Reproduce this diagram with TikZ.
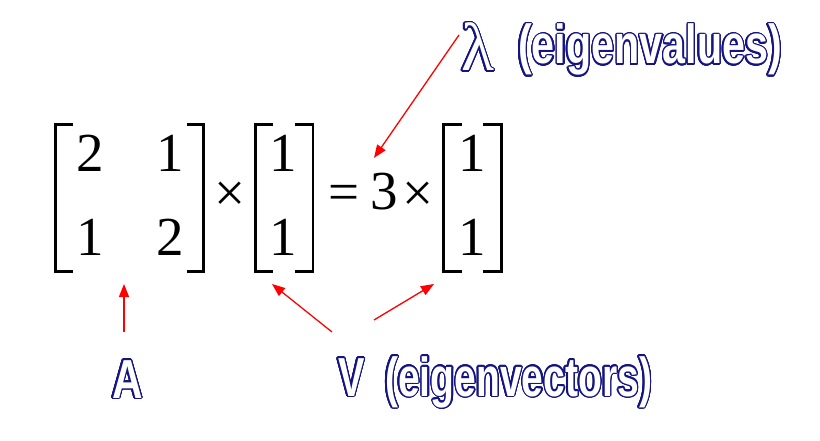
\documentclass[tikz,border=0pt]{standalone}
\usepackage{fontspec}
\setmainfont{Liberation Serif}
\newfontfamily\lblfont{Liberation Sans}
\usepackage{contour}
\contourlength{1.4pt}
\contournumber{24}
\usetikzlibrary{arrows.meta}
\definecolor{lblnavy}{RGB}{20,20,130}
\definecolor{arrred}{RGB}{255,0,0}
\newcommand\outl[2]{\contour{lblnavy}{\scalebox{#1}[1]{#2}}}
\begin{document}
\begin{tikzpicture}[x=1pt,y=-1pt,
  brk/.style={line width=2.7pt, line cap=butt, line join=miter},
  num/.style={inner sep=0pt, anchor=base, font=\fontsize{55}{55}\selectfont},
  op/.style={inner sep=0pt, anchor=center, font=\fontsize{55}{55}\selectfont},
  lbl/.style={inner sep=0pt, anchor=base west, text=white, font=\lblfont\bfseries\fontsize{55}{55}\selectfont},
  pointer/.style={draw=arrred, line width=1.3pt, -{Triangle[length=13pt,width=10pt]}},
]
\useasboundingbox (0,0) rectangle (820,441);
% brackets
\draw[brk] (73,124.5) -- (55.5,124.5) -- (55.5,271.4) -- (73,271.4);
\draw[brk] (187,124.5) -- (203.5,124.5) -- (203.5,271.4) -- (187,271.4);
\draw[brk] (273,124.5) -- (255.5,124.5) -- (255.5,271.4) -- (273,271.4);
\draw[brk] (295,124.5) -- (313,124.5) -- (313,271.4) -- (295,271.4);
\draw[brk] (462,124.5) -- (443.5,124.5) -- (443.5,271.4) -- (462,271.4);
\draw[brk] (483,124.5) -- (501.5,124.5) -- (501.5,271.4) -- (483,271.4);
% entries
\node[num] (a11) at (90,172) {2};
\node[num] (a12) at (170.5,172) {1};
\node[num] (a21) at (90,255) {1};
\node[num] (a22) at (170.5,255) {2};
\node[num] (v1) at (283.5,172) {1};
\node[num] (v2) at (283.5,255) {1};
\node[num] (w1) at (472.5,172) {1};
\node[num] (w2) at (472.5,255) {1};
\node[op] (times1) at (230,197) {×};
\node[op] (eq) at (344,198) {=};
\node[num] (three) at (384,210) {3};
\node[op] (times2) at (418.5,197) {×};
% labels
\node[lbl] (A) at (112,398) {\outl{0.77}{A}};
\node[lbl] (V) at (338,396) {\outl{0.72}{V}};
\node[lbl] (ev) at (385,396) {\outl{0.71}{(eigenvectors)}};
\node[lbl] (eval) at (518,64) {\outl{0.75}{(eigenvalues)}};
\node[inner sep=0pt, anchor=base west, text=white, font=\fontsize{68}{68}\selectfont] (lam) at (461,71) {\contour{lblnavy}{λ}};
% arrows
\coordinate (lamtail) at (459,35);
\coordinate (lamtip) at (374,158);
\coordinate (Atail) at (124,332);
\coordinate (Atip) at (124,284);
\coordinate (Vltail) at (332,332);
\coordinate (Vltip) at (272,284);
\coordinate (Vrtail) at (374,320);
\coordinate (Vrtip) at (434,284);
\draw[pointer] (lamtail) -- (lamtip);
\draw[pointer] (Atail) -- (Atip);
\draw[pointer] (Vltail) -- (Vltip);
\draw[pointer] (Vrtail) -- (Vrtip);
\end{tikzpicture}
\end{document}
